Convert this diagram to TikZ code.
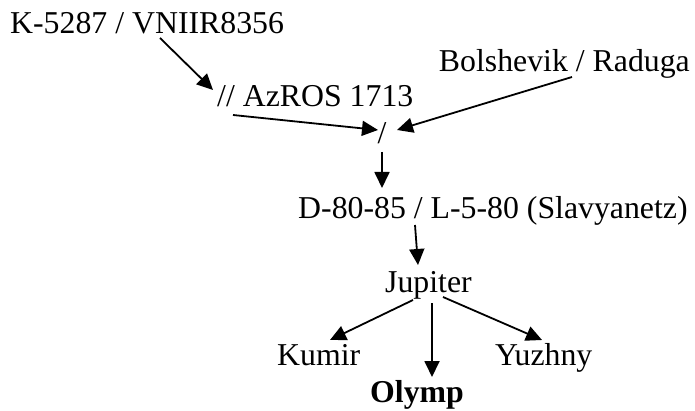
\documentclass[tikz,border=0pt]{standalone}
\usepackage{fontspec}
\setmainfont{Liberation Serif}
\usetikzlibrary{arrows.meta}
\begin{document}
\begin{tikzpicture}[x=1pt,y=-1pt,
  lbl/.style={inner sep=0pt,font=\fontsize{31.8}{38}\selectfont},
  arr/.style={line width=1.8pt,-{Triangle[length=16pt,width=15pt]}}]
\useasboundingbox (0,0) rectangle (695,411);
% lineage labels
\node[lbl,anchor=base west] (k)   at (10,34)   {K-5287 / VNIIR8356};
\node[lbl,anchor=base west] (az)  at (217,107) {// AzROS 1713};
\node[lbl,anchor=base east] (bol) at (690,72)  {Bolshevik / Raduga};
\node[lbl,anchor=base]      (sl)  at (382,144) {/};
\node[lbl,anchor=base west] (d)   at (298,219) {D-80-85 / L-5-80 (Slavyanetz)};
\node[lbl,anchor=base west] (j)   at (385,292) {Jupiter};
\node[lbl,anchor=base west] (ku)  at (277,365) {Kumir};
\node[lbl,anchor=base west,font=\fontsize{31.8}{38}\selectfont\bfseries] (ol) at (370,402) {Olymp};
\node[lbl,anchor=base west] (yu)  at (495,365) {Yuzhny};
% connectors
\draw[arr] ([shift={(150,4)}]k.base west)    -- ([shift={(-4,-17)}]az.base west);
\draw[arr] ([shift={(16,8)}]az.base west)    -- ([shift={(-4,-14)}]sl.base);
\draw[arr] ([shift={(-118,5)}]bol.base east) -- ([shift={(15,-14)}]sl.base);
\draw[arr] ([shift={(0,8)}]sl.base)          -- ([shift={(84,-31)}]d.base west);
\draw[arr] ([shift={(117,6)}]d.base west)    -- ([shift={(33,-27)}]j.base west);
\draw[arr] ([shift={(28,8)}]j.base west)     -- ([shift={(53,-25)}]ku.base west);
\draw[arr] ([shift={(47,11)}]j.base west)    -- ([shift={(62,-25)}]ol.base west);
\draw[arr] ([shift={(58,5)}]j.base west)     -- ([shift={(47,-25)}]yu.base west);
\end{tikzpicture}
\end{document}
